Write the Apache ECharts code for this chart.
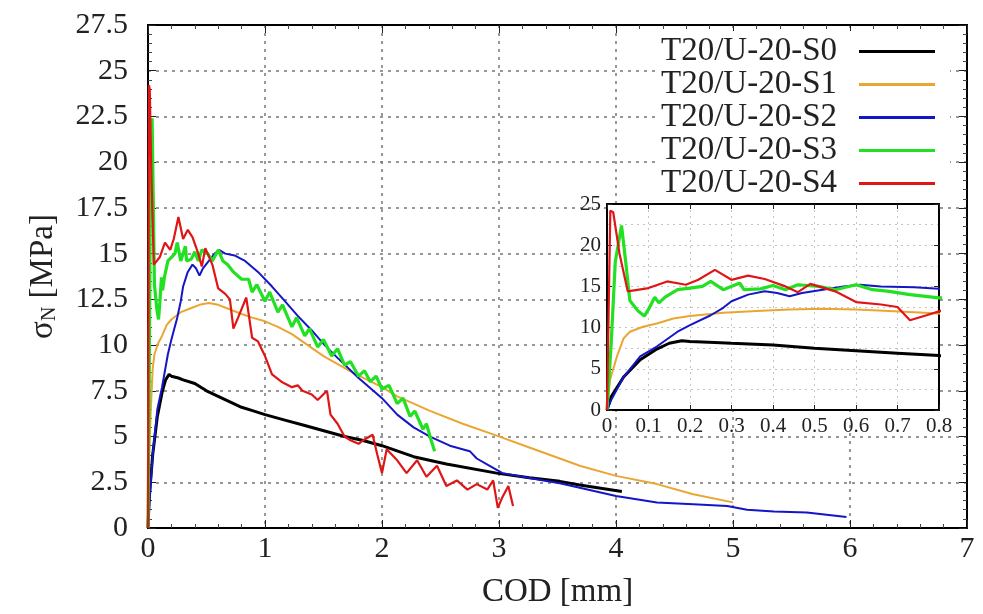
<!DOCTYPE html>
<html><head><meta charset="utf-8">
<script src="https://cdn.jsdelivr.net/npm/echarts@6/dist/echarts.min.js"></script>
<style>html,body{margin:0;padding:0;background:#fff}#c{width:983px;height:614px}</style>
</head><body><div id="c"></div>
<script>
const seriesNames = ['T20/U-20-S0','T20/U-20-S1','T20/U-20-S2','T20/U-20-S3','T20/U-20-S4'];
const seriesColors = ['#000000','#eaa632','#1515c8','#22e022','#e01515'];
const xAxisTitle = 'COD [mm]';
const yAxisTitle = '{s|σ}{n|N}{s| [MPa]}';

// S0 (black)
const s0 = [[0,0],[0.01,1.6],[0.04,4.0],[0.08,6.1],[0.12,7.4],[0.15,8.1],[0.18,8.4],[0.2,8.3],[0.26,8.2],[0.3,8.1],[0.4,7.9],[0.5,7.5],[0.6,7.2],[0.7,6.9],[0.8,6.6],[0.9,6.4],[1.0,6.2],[1.17,5.9],[1.34,5.6],[1.51,5.3],[1.68,5.0],[1.83,4.8],[2.0,4.5],[2.27,3.9],[2.55,3.5],[2.98,3.0],[3.26,2.75],[3.52,2.55],[3.69,2.35],[4.05,2.0]];
// S1 (orange)
const s1 = [[0,0],[0.007,3.6],[0.024,6.5],[0.04,8.7],[0.055,9.5],[0.087,10.1],[0.12,10.5],[0.16,11.1],[0.2,11.4],[0.28,11.8],[0.36,12.0],[0.44,12.2],[0.52,12.3],[0.6,12.2],[0.68,12.0],[0.8,11.7],[0.89,11.5],[1.0,11.3],[1.11,11.0],[1.23,10.6],[1.5,9.4],[1.75,8.5],[2.0,7.7],[2.13,7.2],[2.41,6.4],[2.69,5.7],[2.98,5.05],[3.26,4.4],[3.52,3.8],[3.69,3.4],[4.0,2.85],[4.35,2.4],[4.66,1.85],[5.0,1.4]];
// S2 (blue)
const s2 = [[0,0],[0.01,1.2],[0.04,4.0],[0.08,6.5],[0.12,7.7],[0.17,9.5],[0.2,10.3],[0.25,11.5],[0.28,12.4],[0.3,13.2],[0.34,14.0],[0.38,14.4],[0.41,14.2],[0.44,13.8],[0.47,14.2],[0.52,14.6],[0.57,15.0],[0.61,15.2],[0.66,15.0],[0.74,14.9],[0.8,14.7],[0.83,14.6],[0.94,14.0],[1.06,13.2],[1.17,12.4],[1.28,11.6],[1.4,10.8],[1.51,10.0],[1.62,9.3],[1.8,8.2],[2.0,7.1],[2.13,6.2],[2.27,5.5],[2.41,5.0],[2.58,4.5],[2.75,4.2],[2.81,3.8],[2.92,3.4],[3.03,3.0],[3.2,2.8],[3.38,2.6],[3.52,2.45],[3.69,2.2],[4.0,1.75],[4.35,1.4],[4.66,1.3],[4.95,1.2],[5.12,1.0],[5.35,0.9],[5.63,0.85],[5.97,0.6]];
// S3 (green)
const s3 = [[0,0],[0.01,8],[0.02,18],[0.035,22.4],[0.045,18],[0.055,13.3],[0.075,12],[0.09,11.4],[0.1,12.2],[0.115,13.7],[0.125,13.0],[0.14,13.7],[0.17,14.6],[0.2,14.8],[0.23,15.0],[0.25,15.6],[0.28,14.6],[0.32,15.4],[0.33,14.6],[0.37,14.7],[0.4,15.1],[0.43,14.6],[0.46,15.2],[0.51,15.0],[0.55,14.6],[0.6,15.2],[0.64,14.6],[0.68,14.4],[0.73,14.0],[0.8,13.6],[0.86,13.6],[0.89,12.9],[0.93,13.3],[1.0,12.4],[1.04,12.9],[1.11,11.8],[1.15,12.2],[1.23,11.0],[1.27,11.5],[1.34,10.5],[1.38,10.9],[1.45,9.9],[1.5,10.3],[1.57,9.4],[1.62,9.8],[1.68,8.9],[1.73,9.1],[1.8,8.3],[1.85,8.6],[1.9,8.0],[1.95,8.3],[2.0,7.6],[2.06,7.8],[2.13,6.8],[2.18,7.1],[2.24,6.1],[2.28,6.4],[2.35,5.4],[2.38,5.7],[2.42,4.8],[2.45,4.2]];
// S4 (red)
const s4 = [[0,0],[0.008,24.2],[0.015,24.0],[0.03,19],[0.05,14.4],[0.1,14.8],[0.145,15.6],[0.19,15.2],[0.22,15.8],[0.26,17.0],[0.3,15.8],[0.34,16.3],[0.38,15.9],[0.43,15.0],[0.46,14.3],[0.49,15.3],[0.55,14.4],[0.6,13.1],[0.66,12.8],[0.7,12.5],[0.73,10.9],[0.77,11.5],[0.84,12.6],[0.89,10.4],[0.94,10.2],[1.0,9.4],[1.06,8.4],[1.14,8.0],[1.23,7.7],[1.28,7.8],[1.32,7.5],[1.4,7.3],[1.45,7.0],[1.53,7.5],[1.56,6.2],[1.62,5.7],[1.68,5.0],[1.73,4.8],[1.8,4.6],[1.84,4.8],[1.92,5.1],[1.96,4.0],[2.0,3.0],[2.04,4.3],[2.13,3.7],[2.21,3.0],[2.3,3.7],[2.38,2.8],[2.47,3.4],[2.55,2.3],[2.64,2.6],[2.73,2.1],[2.81,2.4],[2.9,2.1],[2.95,2.6],[2.99,1.1],[3.03,1.7],[3.08,2.3],[3.12,1.2]];

const allData = [s0, s1, s2, s3, s4];
const lineWidths = [3, 2, 2, 3.2, 2.2];

const font = 'Liberation Serif';
const chart = echarts.init(document.getElementById('c'));

function mainAxisCommon(min, max, interval) {
  return {
    type: 'value', min: min, max: max, interval: interval,
    axisLine: { show: true, onZero: false, lineStyle: { color: '#000', width: 2 } },
    axisTick: { show: true, inside: true, length: 8, lineStyle: { color: '#222', width: 1 } },
    minorTick: { show: true, splitNumber: 5, length: 4, lineStyle: { color: '#444', width: 1 } }
  };
}
function insetAxisCommon(min, max, interval) {
  return {
    type: 'value', min: min, max: max, interval: interval, gridIndex: 1, z: 4,
    axisLine: { show: true, onZero: false, lineStyle: { color: '#000', width: 2 } },
    axisTick: { show: true, inside: true, length: 5, lineStyle: { color: '#222', width: 1 } }
  };
}

const xAxes = [
  Object.assign(mainAxisCommon(0, 7, 1), {
    gridIndex: 0, position: 'bottom',
    name: xAxisTitle, nameLocation: 'middle', nameGap: 48,
    nameTextStyle: { fontFamily: font, fontSize: 33, color: '#222' },
    axisLabel: { fontFamily: font, fontSize: 30, color: '#222', margin: 6 },
    splitLine: { show: true, lineStyle: { color: '#777', width: 1.5, type: [3, 5] } }
  }),
  Object.assign(mainAxisCommon(0, 7, 1), {
    gridIndex: 0, position: 'top', axisLabel: { show: false }, splitLine: { show: false }
  }),
  Object.assign(insetAxisCommon(0, 0.8, 0.1), {
    position: 'bottom',
    axisLabel: { fontFamily: font, fontSize: 21, color: '#222', margin: 6 },
    splitLine: { show: true, lineStyle: { color: '#c4c4c4', width: 1, type: [2, 4] } }
  }),
  Object.assign(insetAxisCommon(0, 0.8, 0.1), {
    position: 'top', axisLabel: { show: false }, splitLine: { show: false }
  })
];
const yAxes = [
  Object.assign(mainAxisCommon(0, 27.5, 2.5), {
    gridIndex: 0, position: 'left',
    name: yAxisTitle, nameLocation: 'middle', nameGap: 88,
    nameTextStyle: {
      fontFamily: font, color: '#222',
      rich: {
        s: { fontFamily: font, fontSize: 33, color: '#222' },
        n: { fontFamily: font, fontSize: 20, color: '#222', padding: [14, 0, 0, 0] }
      }
    },
    axisLabel: { fontFamily: font, fontSize: 30, color: '#222', margin: 20 },
    splitLine: { show: true, lineStyle: { color: '#777', width: 1.5, type: [3, 5] } }
  }),
  Object.assign(mainAxisCommon(0, 27.5, 2.5), {
    gridIndex: 0, position: 'right', axisLabel: { show: false }, splitLine: { show: false }
  }),
  Object.assign(insetAxisCommon(0, 25, 5), {
    position: 'left',
    axisLabel: { fontFamily: font, fontSize: 21, color: '#222', margin: 6 },
    splitLine: { show: true, lineStyle: { color: '#c4c4c4', width: 1, type: [2, 4] } },
    minorTick: { show: false, splitNumber: 2 },
    minorSplitLine: { show: true, lineStyle: { color: '#c4c4c4', width: 1, type: [2, 4] } }
  }),
  Object.assign(insetAxisCommon(0, 25, 5), {
    position: 'right', axisLabel: { show: false }, splitLine: { show: false }
  })
];

const series = [];
allData.forEach((d, i) => {
  series.push({
    type: 'line', name: seriesNames[i], data: d, xAxisIndex: 0, yAxisIndex: 0,
    showSymbol: false, symbol: 'none', color: seriesColors[i], z: 2,
    lineStyle: { color: seriesColors[i], width: lineWidths[i] }
  });
});
allData.forEach((d, i) => {
  series.push({
    type: 'line', name: seriesNames[i], data: d, xAxisIndex: 2, yAxisIndex: 2,
    showSymbol: false, symbol: 'none', color: seriesColors[i], z: 5, clip: true,
    lineStyle: { color: seriesColors[i], width: lineWidths[i] }
  });
});

chart.setOption({
  animation: false,
  backgroundColor: '#fff',
  textStyle: { fontFamily: font },
  grid: [
    { left: 148, right: 16, top: 25, bottom: 82, show: true, borderColor: '#000', borderWidth: 2, backgroundColor: 'transparent' },
    { left: 607, right: 44, top: 204, bottom: 204, show: true, borderColor: '#000', borderWidth: 2, backgroundColor: '#fff', z: 3 }
  ],
  legend: {
    data: seriesNames, orient: 'vertical', right: 33, top: 31, align: 'right',
    icon: 'rect', itemWidth: 76, itemHeight: 3, itemGap: 0,
    backgroundColor: '#fff', padding: [4, 15, 6, 4],
    textStyle: { fontFamily: font, fontSize: 33, color: '#222', lineHeight: 28, padding: [0, 17, 0, 0] },
    selectedMode: false
  },
  xAxis: xAxes,
  yAxis: yAxes,
  series: series
});
</script></body></html>
